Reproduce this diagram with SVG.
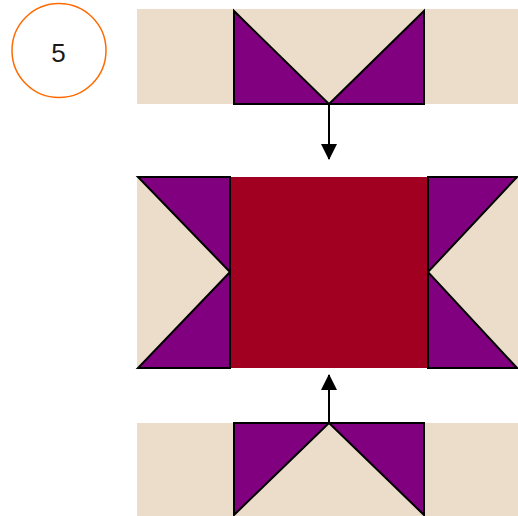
<svg xmlns="http://www.w3.org/2000/svg" width="518" height="516" viewBox="0 0 518 516">
<style>
.bg{fill:#ECDCCA;stroke:none}
.tri{fill:#800080;stroke:#000;stroke-width:2;stroke-linejoin:miter}
.red{fill:#A20020;stroke:none}
.conn{stroke:#000;stroke-width:2;fill:none}
.lbl{font-family:"Liberation Sans",Arial,sans-serif;font-size:26px;fill:#1a1a1a}
</style>
<defs>
<marker id="ah" viewBox="0 0 16 16" refX="15" refY="8" markerWidth="16" markerHeight="16" markerUnits="userSpaceOnUse" orient="auto">
<path d="M0,0 L16,8 L0,16 Z" fill="#000"/>
</marker>
</defs>
<g id="step">
<circle cx="59" cy="50.5" r="47" fill="#fff" stroke="#FF6A00" stroke-width="1.5"/>
<text class="lbl" x="58.5" y="61.5" text-anchor="middle">5</text>
</g>
<g id="top">
<rect class="bg" x="137" y="9" width="381" height="95"/>
<polygon class="tri" points="234,11 234,104 329,104"/>
<polygon class="tri" points="424,11 424,104 329,104"/>
</g>
<g id="middle">
<rect class="bg" x="137" y="177" width="381" height="191"/>
<rect class="red" x="230" y="177" width="198" height="191"/>
<polygon class="tri" points="138,177 230,177 230,272"/>
<polygon class="tri" points="230,272 230,368 138,368"/>
<polygon class="tri" points="428,177 517,177 428,272"/>
<polygon class="tri" points="428,272 428,368 517,368"/>
</g>
<g id="bottom">
<rect class="bg" x="137" y="423" width="381" height="93"/>
<polygon class="tri" points="234,423 329,423 234,515"/>
<polygon class="tri" points="329,423 424,423 424,515"/>
</g>
<g id="connectors">
<line class="conn" x1="329" y1="104" x2="329" y2="159" marker-end="url(#ah)"/>
<line class="conn" x1="329" y1="423" x2="329" y2="375" marker-end="url(#ah)"/>
</g>
</svg>
